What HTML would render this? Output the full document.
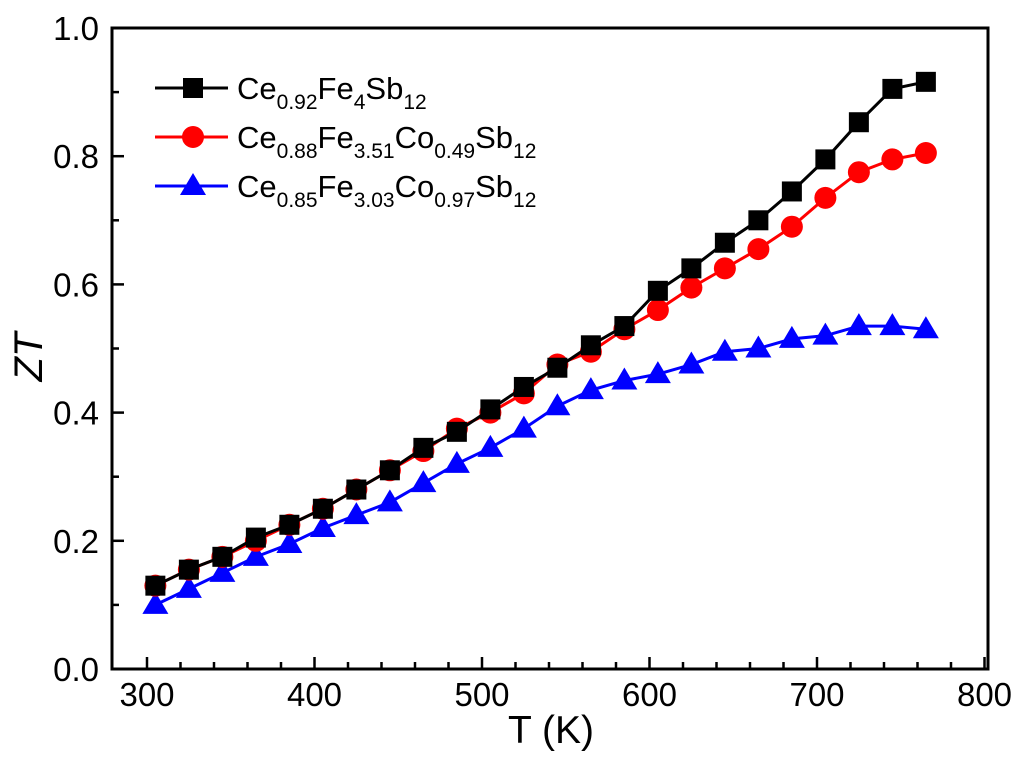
<!DOCTYPE html>
<html><head><meta charset="utf-8"><style>
body{margin:0;background:#fff}
svg text{font-family:"Liberation Sans",Arial,sans-serif;fill:#000}
</style></head><body>
<svg id="c" width="1024" height="767" viewBox="0 0 1024 767"></svg>
<script>
const temps=[305,325,345,365,385,405,425,445,465,485,505,525,545,565,585,605,625,645,665,685,705,725,745,765];
const seriesA=[0.13,0.155,0.175,0.205,0.225,0.25,0.28,0.31,0.345,0.37,0.405,0.44,0.47,0.505,0.535,0.59,0.625,0.665,0.70,0.745,0.795,0.853,0.905,0.916];
const seriesB=[0.13,0.155,0.175,0.2,0.225,0.25,0.28,0.31,0.34,0.375,0.40,0.43,0.475,0.495,0.53,0.56,0.595,0.625,0.655,0.69,0.735,0.775,0.795,0.805];
const seriesC=[0.10,0.125,0.15,0.175,0.195,0.22,0.24,0.26,0.29,0.32,0.345,0.375,0.41,0.435,0.45,0.46,0.475,0.495,0.50,0.515,0.52,0.535,0.535,0.53];
const xTicks=[300,400,500,600,700,800];
const yTicks=[0.0,0.2,0.4,0.6,0.8,1.0];
const NS='http://www.w3.org/2000/svg';
const svg=document.getElementById('c');
const L=112,R=988,T=28,B=669;
const X=v=>147+(v-300)*1.675;
const Y=v=>B-v*(B-T);
function mk(tag,attrs,parent){const e=document.createElementNS(NS,tag);for(const k in attrs)e.setAttribute(k,attrs[k]);(parent||svg).appendChild(e);return e;}
const fr=mk('rect',{x:L,y:T,width:R-L,height:B-T,fill:'none',stroke:'#000','stroke-width':3});


for(let v=300;v<=800;v+=20){const major=(v%100===0);const t=mk('line',{x1:X(v),x2:X(v),y1:B,y2:B-(major?12:7),stroke:'#000','stroke-width':2.5});

}
xTicks.forEach(v=>{const t=mk('text',{x:X(v),y:706,'font-size':33,'text-anchor':'middle'});t.textContent=v;

});
for(let i=0;i<=10;i++){const v=i*0.1;const major=(i%2===0);const t=mk('line',{x1:L,x2:L+(major?12:7),y1:Y(v),y2:Y(v),stroke:'#000','stroke-width':2.5});

}
yTicks.forEach(v=>{const t=mk('text',{x:99,y:Y(v)+12,'font-size':33,'text-anchor':'end'});t.textContent=v.toFixed(1);

});
const xt=mk('text',{x:551,y:743,'font-size':39,'text-anchor':'middle'});xt.textContent='T (K)';


const yt=mk('text',{x:0,y:0,'font-size':40,'text-anchor':'middle','font-style':'italic',transform:'translate(42,357) rotate(-90)'});yt.textContent='ZT';


function marker(shape,cx,cy,color,g){
 if(shape==='sq')return mk('rect',{x:cx-10,y:cy-10,width:20,height:20,fill:color},g);
 if(shape==='ci')return mk('circle',{cx:cx,cy:cy,r:11,fill:color},g);
 return mk('polygon',{points:`${cx},${cy-13} ${cx+13},${cy+9} ${cx-13},${cy+9}`,fill:color},g);
}
function series(vals,color,shape,name){
 const g=mk('g',{});
 
 
 const p=mk('polyline',{points:vals.map((v,i)=>X(temps[i])+','+Y(v)).join(' '),fill:'none',stroke:color,'stroke-width':3},g);
 
 
 vals.forEach((v,i)=>{const m=marker(shape,X(temps[i]),Y(v),color,g);
 
 });
}
series(seriesC,'#0000ff','tr','series-co097');
series(seriesB,'#ff0000','ci','series-co049');
series(seriesA,'#000000','sq','series-fe4');
const leg=[['#000','sq',88,[['Ce'],['0.92',1],['Fe'],['4',1],['Sb'],['12',1]]],
['#ff0000','ci',137,[['Ce'],['0.88',1],['Fe'],['3.51',1],['Co'],['0.49',1],['Sb'],['12',1]]],
['#0000ff','tr',186,[['Ce'],['0.85',1],['Fe'],['3.03',1],['Co'],['0.97',1],['Sb'],['12',1]]]];
leg.forEach(([c,s,y,parts])=>{
 const g=mk('g',{});
 
 
 mk('line',{x1:155,x2:228,y1:y,y2:y,stroke:c,'stroke-width':3},g);
 marker(s,193,y,c,g);
 const t=mk('text',{x:237,y:y+11,'font-size':31},g);
 parts.forEach(([str,sub])=>{const ts=mk('tspan',{},t);ts.textContent=str;
  if(sub){ts.setAttribute('font-size','21');ts.setAttribute('dy','10');}else if(t.childNodes.length>1){ts.setAttribute('dy','-10');}});
});
</script>
</body></html>
